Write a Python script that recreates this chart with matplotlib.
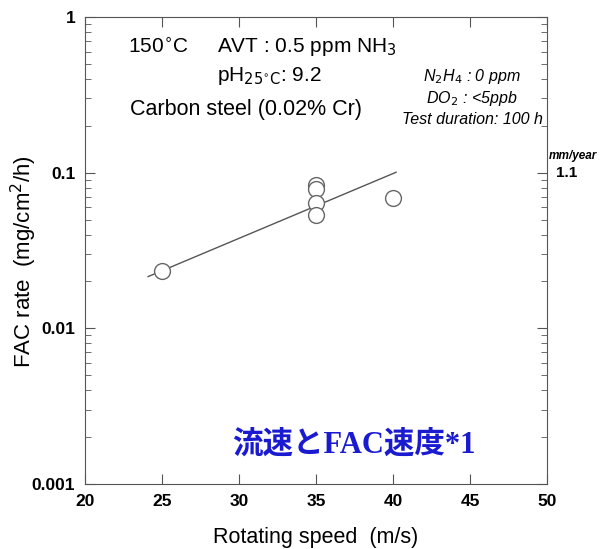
import matplotlib.pyplot as plt
from matplotlib.ticker import LogLocator, NullFormatter, FixedLocator

plt.rcParams['font.family'] = ['Liberation Sans', 'DejaVu Sans']

# measured points (rotating speed m/s, FAC rate mg/cm2/h)
speed = [25, 35, 35, 35, 35, 40]
fac_rate = [0.0234, 0.0834, 0.0782, 0.0641, 0.0535, 0.0685]

# fitted trend line end points
fit_speed = [24.1, 40.2]
fit_rate = [0.0215, 0.1006]

x_ticks = [20, 25, 30, 35, 40, 45, 50]
y_ticks = [0.001, 0.01, 0.1, 1]
y_tick_labels = ['0.001', '0.01', '0.1', '1']

fig = plt.figure(figsize=(6.0, 5.49), dpi=100)
ax = fig.add_axes([85 / 600, 1 - 484 / 549, 462 / 600, 467 / 549])

ax.plot(fit_speed, fit_rate, color='#555555', lw=1.0)
ax.scatter(speed, fac_rate, s=130, facecolors='white', edgecolors='#666666', linewidths=1.0, zorder=3)

ax.set_yscale('log')
ax.set_xlim(20, 50)
ax.set_ylim(0.001, 1)
ax.set_xticks(x_ticks)
ax.set_xticklabels([str(t) for t in x_ticks], fontweight='bold', fontsize=12.5)
ax.yaxis.set_major_locator(FixedLocator(y_ticks))
ax.set_yticklabels(y_tick_labels, fontweight='bold', fontsize=12.5)
ax.yaxis.set_minor_locator(LogLocator(base=10, subs=range(2, 10)))
ax.yaxis.set_minor_formatter(NullFormatter())
ax.tick_params(axis='both', which='both', direction='in', top=True, right=True, color='#555555')
ax.tick_params(axis='both', which='major', length=7, pad=7)
ax.tick_params(axis='both', which='minor', length=4)
for sp in ax.spines.values():
    sp.set_color('#555555')

fig.text(316 / 600, 1 - 537 / 549, 'Rotating speed  (m/s)', fontsize=15.5, ha='center', va='center')
fig.text(24 / 600, 1 - 262 / 549, 'FAC rate  (mg/cm$^2$/h)', fontsize=16, rotation=90, ha='center', va='center')

# condition notes
fig.text(128 / 600, 1 - 47 / 549, '150$^{\\circ}$C', fontsize=15, va='center')
fig.text(217 / 600, 1 - 47 / 549, 'AVT : 0.5 ppm NH$_3$', fontsize=15, va='center')
fig.text(217 / 600, 1 - 76 / 549, 'pH$_{25^{\\circ}\\mathrm{C}}$: 9.2', fontsize=15, va='center')
fig.text(130 / 600, 1 - 110 / 549, 'Carbon steel (0.02% Cr)', fontsize=15.5, va='center')
fig.text(472 / 600, 1 - 76 / 549, 'N$_2$H$_4$ : 0 ppm', fontsize=11.5, style='italic', ha='center', va='center')
fig.text(472 / 600, 1 - 98 / 549, 'DO$_2$ : <5ppb', fontsize=11.5, style='italic', ha='center', va='center')
fig.text(472 / 600, 1 - 119 / 549, 'Test duration: 100 h', fontsize=11.5, style='italic', ha='center', va='center')

# right-side unit conversion
fig.text(549 / 600, 1 - 156 / 549, 'mm/year', fontsize=8.5, style='italic', fontweight='bold', va='center')
fig.text(556 / 600, 1 - 173 / 549, '1.1', fontsize=11, fontweight='bold', va='center')

fig.text(232 / 600, 1 - 445 / 549, '流速とFAC速度*1', fontsize=22, fontweight='bold', color='#1a1ad0',
         family=['Liberation Serif', 'Noto Sans CJK JP'], va='center')

fig.savefig('out.png', dpi=100)
